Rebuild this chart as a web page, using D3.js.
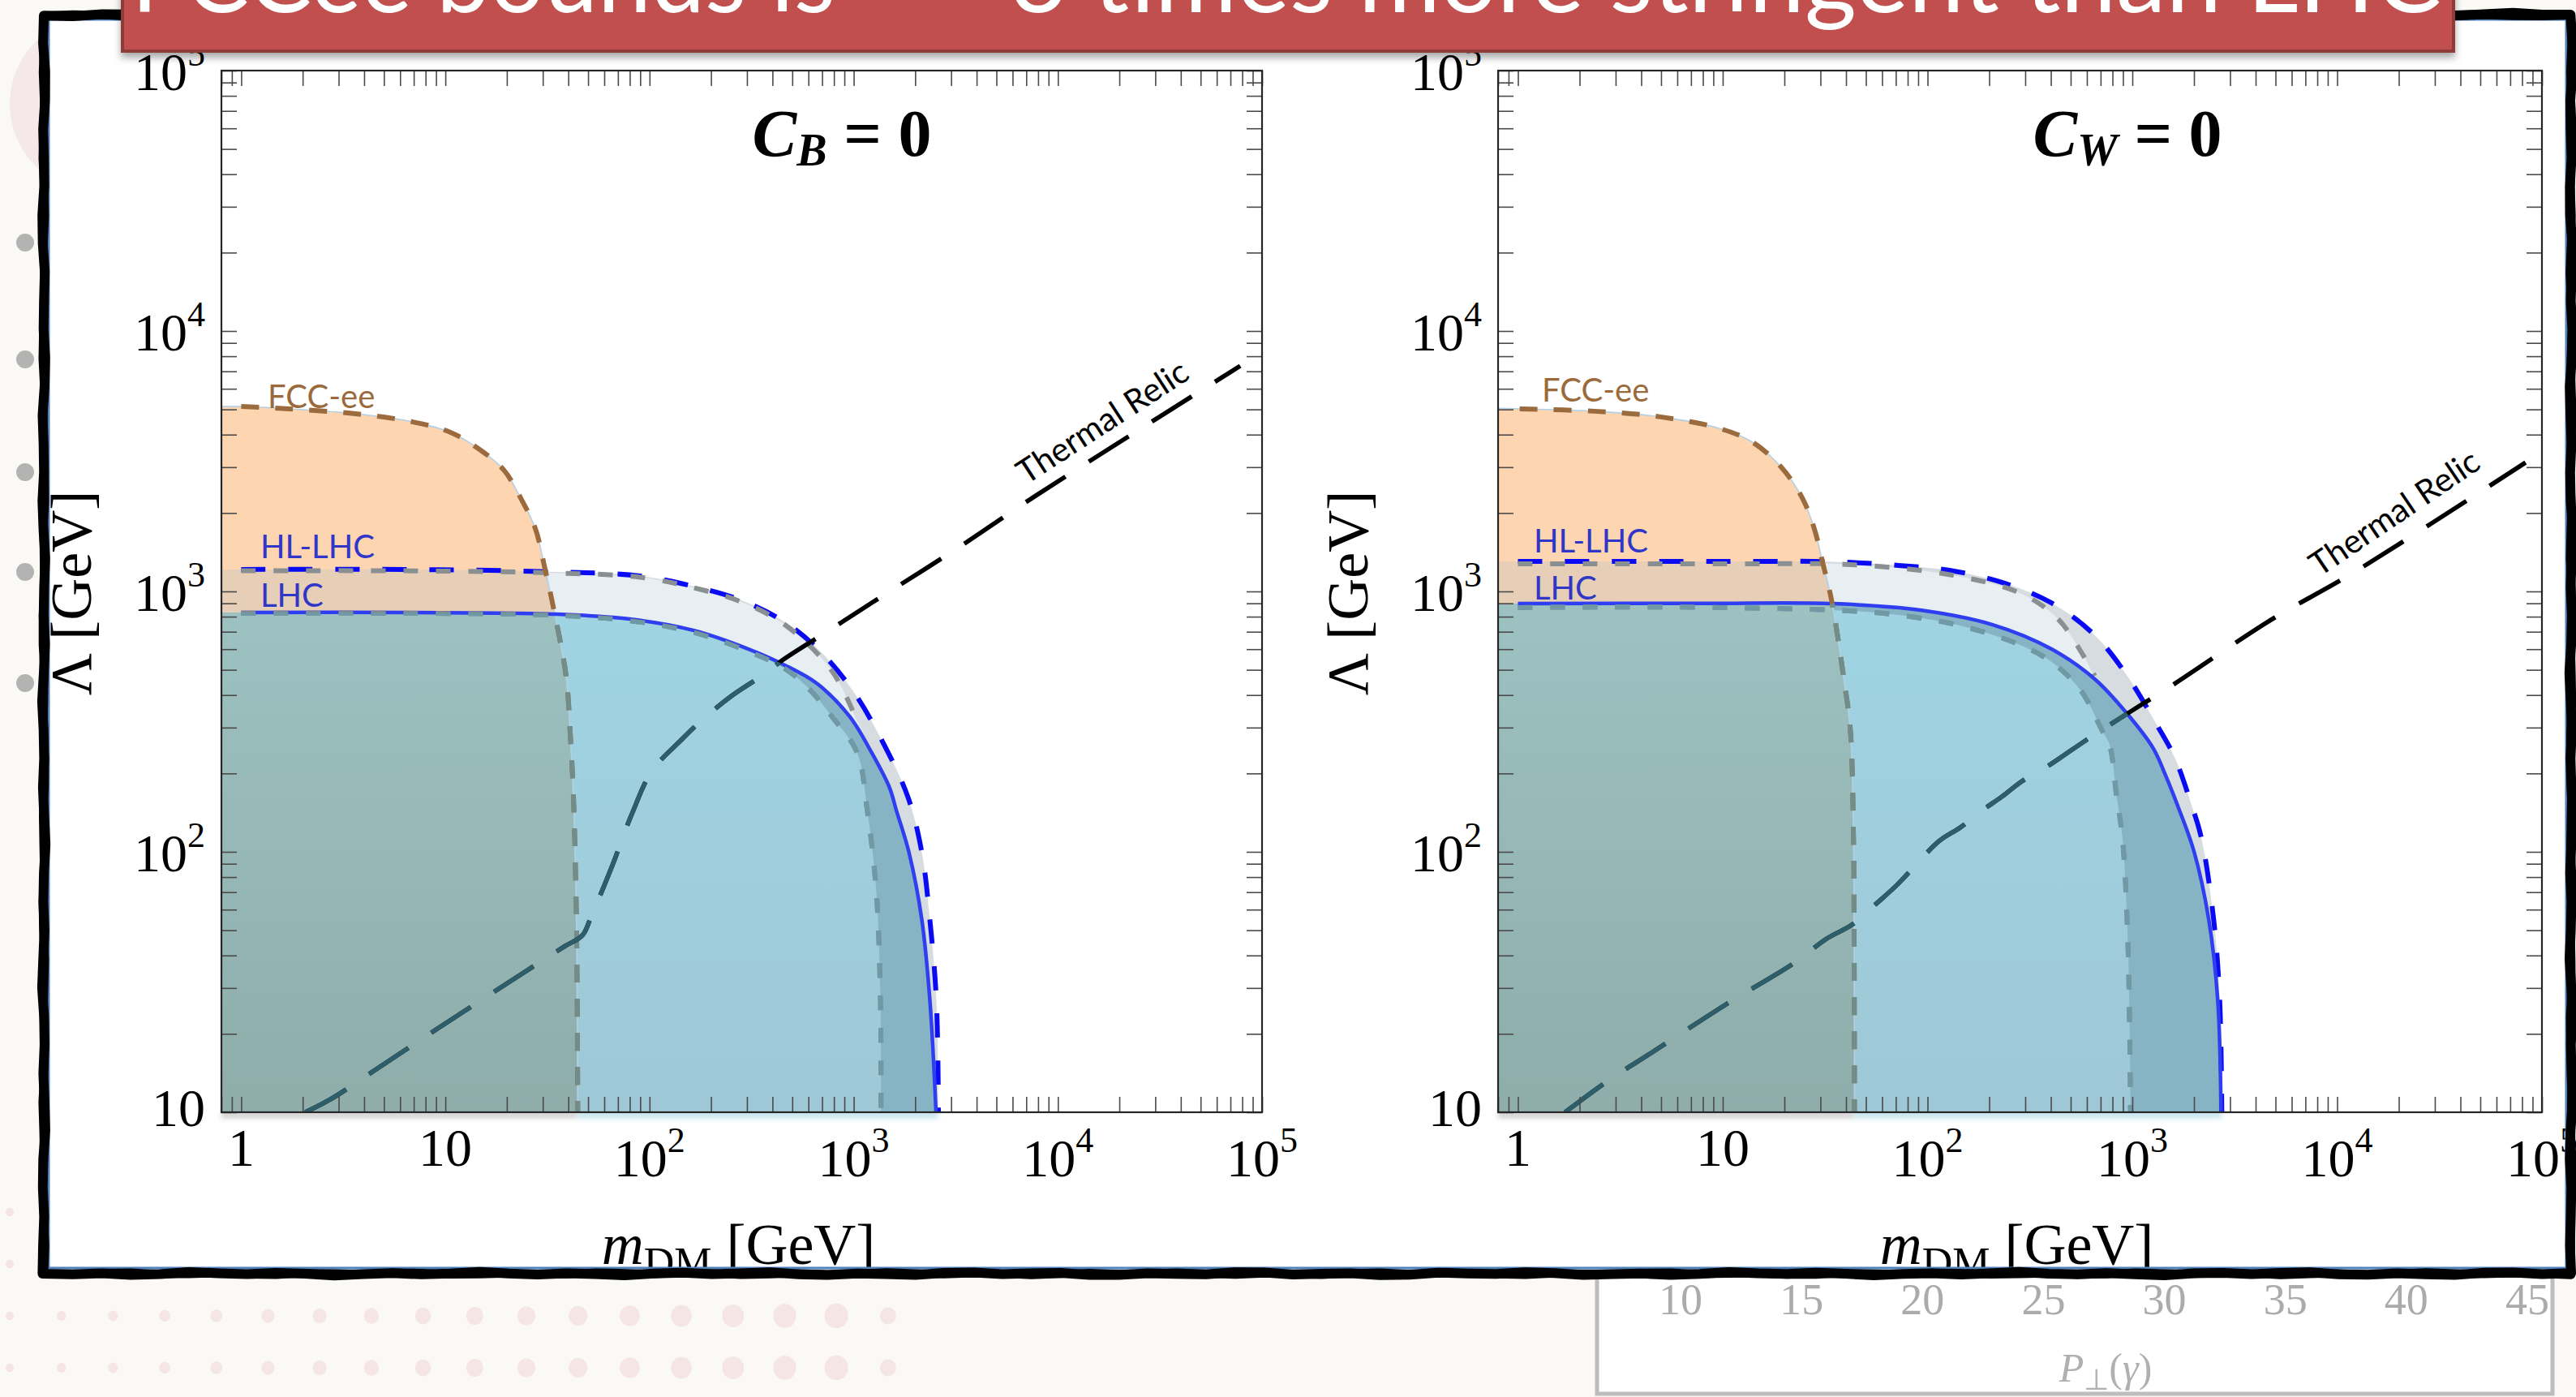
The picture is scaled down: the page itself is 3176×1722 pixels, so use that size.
<!DOCTYPE html>
<html>
<head>
<meta charset="utf-8">
<script src="https://cdn.jsdelivr.net/npm/d3@7"></script>
<style>
  html, body { margin: 0; padding: 0; background: #faf9f5; }
  svg { display: block; }
</style>
</head>
<body>
<svg id="slide" width="3176" height="1722"></svg>
<script>
// ---------------------------------------------------------------
// Exclusion contours in the (m_DM, Lambda) plane, both in GeV.
// Each contour runs from small mass along its plateau and bends
// down to the vertical cut-off at Lambda = 10 GeV.
// ---------------------------------------------------------------

// Panel 1: C_B = 0
const fccCB = [[0.8, 5130], [1.0, 5130], [1.71, 5025], [3.63, 4810], [6.94, 4475], [10.6, 4080],
  [14.7, 3510], [19.3, 2930], [23.4, 2280], [27.6, 1740], [30.8, 1214], [34, 850], [39, 474],
  [40.8, 293], [42.4, 162], [43.3, 90], [44, 45], [44.5, 10]];
const hlCB = [[0.8, 1214], [1, 1214], [6.3, 1214], [32.5, 1190], [89.6, 1146], [165, 1045],
  [281, 925], [460, 762], [687, 588], [1000, 411], [1377, 267], [1845, 162], [2153, 100],
  [2360, 55], [2540, 27], [2600, 10]];
const hlAltCB = [[0.8, 1200], [1, 1200], [6.3, 1200], [32.5, 1178], [89.6, 1134], [165, 1033],
  [281, 912], [460, 745], [782, 495], [1038, 318]];
const lhcCB = [[0.8, 830], [1, 830], [6.3, 830], [35, 818], [80, 783], [165, 708], [305, 601],
  [460, 521], [663, 442], [955, 331], [1222, 241], [1495, 177], [1623, 143], [1862, 100],
  [2155, 55], [2360, 27], [2530, 10]];
const lhcAltCB = [[0.8, 825], [1, 825], [6.3, 825], [35, 810], [80, 772], [165, 696], [305, 588],
  [460, 505], [600, 425], [782, 331], [1038, 241], [1167, 143], [1291, 70], [1352, 27], [1360, 10]];
const relicCB = [[2.06, 10], [2.73, 11.2], [4.57, 14.6], [9.2, 21], [24.5, 34.6], [38.3, 43.3],
  [46.9, 47.8], [51.7, 56.3], [65, 86.7], [82, 140], [103, 205], [143, 269], [176, 315],
  [250, 395], [360, 478], [452, 547], [746, 703], [1222, 903], [3250, 1472], [7590, 2300],
  [78200, 7345]];

// Panel 2: C_W = 0
const fccCW = [[0.8, 5050], [1.02, 5025], [2.37, 4920], [4.97, 4680], [9.6, 4230], [14, 3740],
  [19.3, 3000], [24.5, 2280], [28, 1740], [30.8, 1285], [34, 925], [39, 464], [42, 293],
  [43.5, 113], [43.8, 50], [44, 10]];
const hlCW = [[0.8, 1303], [1, 1303], [10.5, 1303], [34.6, 1300], [72, 1259], [128, 1205],
  [226, 1089], [403, 903], [655, 679], [944, 474], [1315, 308], [1607, 231], [1932, 154],
  [2173, 113], [2495, 55], [2670, 27], [2735, 10]];
const hlAltCW = [[0.8, 1276], [1, 1276], [10.5, 1276], [44, 1265], [139, 1146], [290, 977],
  [434, 783], [582, 560], [655, 474]];
const lhcCW = [[0.8, 898], [1, 898], [7.9, 900], [34.6, 898], [92, 848], [208, 745], [403, 601],
  [655, 461], [944, 339], [1268, 249], [1440, 200], [1667, 150], [2003, 100], [2361, 55],
  [2612, 27], [2710, 10]];
const lhcAltCW = [[0.8, 867], [1, 867], [10, 867], [66, 818], [177, 708], [371, 560], [556, 420],
  [711, 293], [773, 259], [839, 162], [895, 113], [953, 43], [980, 10]];
const relicCW = [[1.7, 10], [2.71, 13.1], [4.53, 17], [10.5, 26.1], [22.3, 37.4], [32.2, 46.4],
  [42.8, 52.5], [56.8, 63.7], [71.4, 75], [114, 110], [144.5, 124], [182, 143], [231, 163],
  [290, 187], [385, 213], [614, 273], [971, 344], [1607, 442], [4820, 783], [11600, 1161],
  [83200, 3126]];

// Axis labels
const massTickLabels = [1, 10, 100, 1000, 10000, 100000];
const scaleTickLabels = [10, 100, 1000, 10000, 100000];
const massDomain = [0.8, 1e5];
const scaleDomain = [10, 1e5];

// Tick labels of the partly hidden chart below the panel
const ptTickLabels = [10, 15, 20, 25, 30, 35, 40, 45];

const headline = ["FCCee bounds is", "\u223C", "3 times more stringent than LHC"];

// ---------------------------------------------------------------
const W = 3176, H = 1722;
const SERIF = "'Liberation Serif', 'Times New Roman', serif";
const SANS = "Lato, 'Open Sans', sans-serif";
const svg = d3.select("#slide");
const defs = svg.append("defs");

function vGrad(id, y0, y1, c0, c1) {
  const gr = defs.append("linearGradient").attr("id", id)
    .attr("gradientUnits", "userSpaceOnUse").attr("x1", 0).attr("x2", 0).attr("y1", y0).attr("y2", y1);
  gr.append("stop").attr("offset", 0).attr("stop-color", c0);
  gr.append("stop").attr("offset", 1).attr("stop-color", c1);
}
vGrad("blueFill", 740, 1371, "#9fd4e3", "#9fc8d6");
vGrad("tealFill", 740, 1371, "#9dc2c1", "#8eadab");

const shadow = defs.append("filter").attr("id", "boxShadow")
  .attr("x", "-5%").attr("y", "-50%").attr("width", "110%").attr("height", "200%");
shadow.append("feDropShadow").attr("dx", 0).attr("dy", 6).attr("stdDeviation", 5)
  .attr("flood-color", "#000").attr("flood-opacity", 0.35);
defs.append("filter").attr("id", "soft").attr("x", "-5%").attr("y", "-100%").attr("width", "110%").attr("height", "300%")
  .append("feGaussianBlur").attr("stdDeviation", 3);

// ---------------- slide background ----------------
svg.append("rect").attr("width", W).attr("height", H).attr("fill", "#faf9f5");
svg.append("circle").attr("cx", 120).attr("cy", 128).attr("r", 108).attr("fill", "#f5e8e8");

const bullets = svg.append("g").attr("fill", "#b3b3b3");
[299, 443, 582, 705, 842].forEach(cy => bullets.append("circle").attr("cx", 31).attr("cy", cy).attr("r", 11));

const dots = svg.append("g").attr("fill", "#f5e5e5");
d3.range(18).forEach(i => {
  const r = i === 17 ? 10 : 5 + i * 0.6;
  [1622, 1686].forEach(cy => dots.append("ellipse").attr("cx", 12 + i * 63.7).attr("cy", cy).attr("rx", r).attr("ry", r * 1.05));
});
[1494, 1558].forEach(cy => dots.append("ellipse").attr("cx", 12).attr("cy", cy).attr("rx", 5).attr("ry", 5.3));

// partly hidden chart underneath the panel
const under = svg.append("g");
under.append("rect").attr("x", 1969).attr("y", 1450).attr("width", 1178).attr("height", 268)
  .attr("fill", "#ffffff").attr("stroke", "#bdbdbd").attr("stroke-width", 5);
const pt = d3.scaleLinear().domain([10, 45]).range([2072, 3116]);
ptTickLabels.forEach(v => under.append("text").attr("x", pt(v)).attr("y", 1620)
  .attr("text-anchor", "middle").attr("font-family", SERIF).attr("font-size", 54)
  .attr("fill", "#ababab").text(v));
const ptLab = under.append("text").attr("x", 2596).attr("y", 1703).attr("text-anchor", "middle")
  .attr("font-family", SERIF).attr("font-size", 50).attr("fill", "#b0b0b0");
ptLab.append("tspan").attr("font-style", "italic").text("P");
ptLab.append("tspan").attr("font-size", 36).attr("dy", 10).text("\u22A5");
ptLab.append("tspan").attr("dy", -10).text("(");
ptLab.append("tspan").attr("font-style", "italic").text("\u03B3");
ptLab.append("tspan").text(")");

// ---------------- white panel ----------------
svg.append("rect").attr("x", 54).attr("y", 18).attr("width", 3116).attr("height", 1552).attr("fill", "#ffffff");

// ---------------- one exclusion panel ----------------
function drawPanel(p) {
  const x = d3.scaleLog().domain(massDomain).range([p.left, p.right]);
  const y = d3.scaleLog().domain(scaleDomain).range([1371, 87]);
  const yBot = y(scaleDomain[0]), yTop = y(scaleDomain[1]);
  const g = svg.append("g");

  const smooth = d3.line().x(d => x(d[0])).y(d => y(d[1])).curve(d3.curveCatmullRom.alpha(0.5));
  const region = pts => {
    const a = pts[0], b = pts[pts.length - 1];
    return smooth(pts) + `L${x(b[0])},${yBot}L${x(massDomain[0])},${yBot}L${x(massDomain[0])},${y(a[1])}Z`;
  };
  const merged = (alt, base) => alt.concat(base.filter(d => d[0] > alt[alt.length - 1][0]));
  const fromOne = pts => pts.filter(d => d[0] >= 1);
  const edge = pts => pts[pts.length - 1][0];

  defs.append("clipPath").attr("id", p.id + "-area").append("rect")
    .attr("x", p.left).attr("y", yTop).attr("width", p.right - p.left).attr("height", yBot - yTop);
  defs.append("clipPath").attr("id", p.id + "-hl").append("path").attr("d", region(p.hl));
  defs.append("clipPath").attr("id", p.id + "-lhc").append("path").attr("d", region(p.lhc));

  // soft shadow under the filled regions, just below the axis
  g.append("rect").attr("x", p.left).attr("y", yBot).attr("width", x(edge(p.fcc)) - p.left).attr("height", 7)
    .attr("fill", "#8a8a8a").attr("opacity", 0.45).attr("filter", "url(#soft)");
  g.append("rect").attr("x", x(edge(p.fcc))).attr("y", yBot).attr("width", x(edge(p.hl)) - x(edge(p.fcc))).attr("height", 7)
    .attr("fill", "#9fd3e3").attr("opacity", 0.7).attr("filter", "url(#soft)");

  const area = g.append("g").attr("clip-path", `url(#${p.id}-area)`);

  // filled regions
  area.append("path").attr("d", region(p.hl)).attr("fill", "#d6dcdf");
  area.append("path").attr("d", region(merged(p.hlAlt, p.lhc))).attr("fill", "#e8eff3");
  area.append("path").attr("d", region(p.lhc)).attr("fill", "#87b4c4");
  area.append("path").attr("d", region(p.lhcAlt)).attr("fill", "url(#blueFill)");
  area.append("path").attr("d", region(p.fcc)).attr("fill", "#fdd5b1");
  area.append("path").attr("d", region(p.fcc)).attr("fill", "#e6cfb6").attr("clip-path", `url(#${p.id}-hl)`);
  area.append("path").attr("d", region(p.fcc)).attr("fill", "url(#tealFill)").attr("clip-path", `url(#${p.id}-lhc)`);
  area.append("path").attr("d", region(p.fcc)).attr("fill", "none").attr("stroke", "#b2d0e6").attr("stroke-width", 1.6);

  // contour lines
  const stroke = (pts, color, w, dash, clip) => {
    const s = area.append("path").attr("d", smooth(pts)).attr("fill", "none")
      .attr("stroke", color).attr("stroke-width", w).attr("stroke-linejoin", "round");
    if (dash) s.attr("stroke-dasharray", dash);
    if (clip) s.attr("clip-path", `url(#${p.id}-${clip})`);
    return s;
  };
  stroke(fromOne(p.hl), "#0b0bf3", 6, "30,28");
  stroke(fromOne(p.hlAlt), "#8a8f92", 6, "18,22");
  stroke(fromOne(p.lhc), "#2e3ef0", 4.5);
  stroke(fromOne(p.lhcAlt), "#80898d", 6, "18,22");
  stroke(fromOne(p.lhcAlt), "#6e99a5", 6, "18,22", "lhc");
  stroke(fromOne(p.fcc), "#9c6b3d", 6, "22,20");
  stroke(fromOne(p.fcc), "#728c8a", 6, "22,20", "lhc");
  stroke(p.relic, "#000000", 5.5, "58,34");
  stroke(p.relic, "#2d5e6a", 5.5, "58,34", "lhc");

  // ticks on all four sides, pointing inward
  const tickStyle = sel => {
    sel.select(".domain").remove();
    sel.selectAll(".tick line").attr("stroke", "#4a4a4a").attr("stroke-width", 1.6);
  };
  g.append("g").attr("transform", `translate(0,${yBot})`)
    .call(d3.axisBottom(x).tickValues(x.ticks()).tickSize(-19).tickFormat(() => "")).call(tickStyle);
  g.append("g").attr("transform", `translate(0,${yTop})`)
    .call(d3.axisTop(x).tickValues(x.ticks()).tickSize(-19).tickFormat(() => "")).call(tickStyle);
  g.append("g").attr("transform", `translate(${p.left},0)`)
    .call(d3.axisLeft(y).tickValues(y.ticks()).tickSize(-19).tickFormat(() => "")).call(tickStyle);
  g.append("g").attr("transform", `translate(${p.right},0)`)
    .call(d3.axisRight(y).tickValues(y.ticks()).tickSize(-19).tickFormat(() => "")).call(tickStyle);

  g.append("rect").attr("x", p.left).attr("y", yTop).attr("width", p.right - p.left).attr("height", yBot - yTop)
    .attr("fill", "none").attr("stroke", "#262626").attr("stroke-width", 2.2);

  // tick labels: plain numbers below 100, powers of ten above
  const tickText = (v, px, py, anchor) => {
    const t = g.append("text").attr("x", px).attr("y", py).attr("text-anchor", anchor)
      .attr("font-family", SERIF).attr("font-size", 66).attr("fill", "#000");
    if (v < 100) { t.text(v); return; }
    t.append("tspan").text("10");
    t.append("tspan").attr("dy", -30).attr("font-size", 44).text(Math.round(Math.log10(v)));
  };
  massTickLabels.forEach(v => tickText(v, x(v), v < 100 ? 1437 : 1450, "middle"));
  scaleTickLabels.forEach(v => tickText(v, p.left - 20, y(v) + (v < 100 ? 17 : 24), "end"));

  // axis titles
  const yt = g.append("text").attr("transform", `translate(${p.left - 161},731) rotate(-90)`)
    .attr("text-anchor", "middle").attr("font-family", SERIF).attr("font-size", 72).attr("fill", "#000");
  yt.text("\u039B [GeV]");
  const xt = g.append("text").attr("x", (p.left + p.right) / 2 - 4).attr("y", 1558)
    .attr("text-anchor", "middle").attr("font-family", SERIF).attr("font-size", 72).attr("fill", "#000");
  xt.append("tspan").attr("font-style", "italic").text("m");
  xt.append("tspan").attr("font-size", 52).attr("dy", 16).text("DM");
  xt.append("tspan").attr("dy", -16).text(" [GeV]");

  // panel title
  const tt = g.append("text").attr("x", p.titleX).attr("y", 192).attr("text-anchor", "middle")
    .attr("font-family", SERIF).attr("font-size", 82).attr("font-weight", "bold").attr("fill", "#000");
  tt.append("tspan").attr("font-style", "italic").text("C");
  tt.append("tspan").attr("font-style", "italic").attr("font-size", 56).attr("dy", 12).text(p.sub);
  tt.append("tspan").attr("dy", -12).text(" = 0");

  // curve annotations
  const note = (txt, px, py, color) => g.append("text").attr("x", px).attr("y", py)
    .attr("font-family", SANS).attr("font-size", 40).attr("fill", color).text(txt);
  note("FCC-ee", p.left + p.fccLab[0], p.fccLab[1], "#9a6a3b");
  note("HL-LHC", p.left + p.hlLab[0], p.hlLab[1], "#3036c8");
  note("LHC", p.left + p.lhcLab[0], p.lhcLab[1], "#3036c8");
  g.append("text").attr("transform", `translate(${p.relicLab[0]},${p.relicLab[1]}) rotate(${p.relicLab[2]})`)
    .attr("text-anchor", "middle").attr("font-family", SANS).attr("font-size", 41).attr("fill", "#000")
    .text("Thermal Relic");
}

drawPanel({ id: "cb", left: 273, right: 1556, sub: "B", titleX: 1038,
  fcc: fccCB, hl: hlCB, hlAlt: hlAltCB, lhc: lhcCB, lhcAlt: lhcAltCB, relic: relicCB,
  fccLab: [57, 503], hlLab: [48, 688], lhcLab: [48, 748], relicLab: [1367, 532, -33] });
drawPanel({ id: "cw", left: 1847, right: 3134, sub: "W", titleX: 2623,
  fcc: fccCW, hl: hlCW, hlAlt: hlAltCW, lhc: lhcCW, lhcAlt: lhcAltCW, relic: relicCW,
  fccLab: [54, 495], hlLab: [44, 681], lhcLab: [44, 739], relicLab: [2960, 644, -34] });

// ---------------- hand-drawn panel border ----------------
svg.append("rect").attr("x", 60).attr("y", 24).attr("width", 3104).attr("height", 1539)
  .attr("fill", "none").attr("stroke", "#4f81bd").attr("stroke-width", 3);
function wobblyRect(x0, y0, x1, y1, seed, amp) {
  const pts = [];
  const side = (ax, ay, bx, by, s) => {
    const len = Math.hypot(bx - ax, by - ay), n = Math.ceil(len / 36);
    const nx = -(by - ay) / len, ny = (bx - ax) / len;
    for (let i = 0; i < n; i++) {
      const t = i / n;
      const o = amp * (Math.sin(i * 1.9 + s) * 0.6 + Math.sin(i * 0.71 + s * 2.3) * 0.4);
      pts.push([ax + (bx - ax) * t + nx * o, ay + (by - ay) * t + ny * o]);
    }
  };
  side(x0, y0, x1, y0, seed); side(x1, y0, x1, y1, seed + 1.3);
  side(x1, y1, x0, y1, seed + 2.6); side(x0, y1, x0, y0, seed + 3.9);
  return "M" + pts.map(q => q[0].toFixed(1) + "," + q[1].toFixed(1)).join("L") + "Z";
}
svg.append("path").attr("d", wobblyRect(54, 18, 3170, 1570, 0.4, 2.2))
  .attr("fill", "none").attr("stroke", "#000").attr("stroke-width", 12).attr("stroke-linejoin", "round");
svg.append("path").attr("d", wobblyRect(54, 19, 3170, 1570, 2.1, 1.8))
  .attr("fill", "none").attr("stroke", "#000").attr("stroke-width", 10).attr("stroke-linejoin", "round");

// ---------------- title banner ----------------
const banner = svg.append("g");
banner.append("rect").attr("x", 151).attr("y", -20).attr("width", 2874).attr("height", 83)
  .attr("fill", "#c0504d").attr("stroke", "#8f3b39").attr("stroke-width", 4).attr("filter", "url(#boxShadow)");
banner.append("text").attr("x", 162).attr("y", 15).attr("font-family", SANS).attr("font-size", 122)
  .attr("fill", "#ffffff").attr("textLength", 868).attr("lengthAdjust", "spacingAndGlyphs").text(headline[0]);
banner.append("text").attr("x", 1137).attr("y", 15).attr("text-anchor", "middle").attr("font-family", SANS)
  .attr("font-size", 122).attr("fill", "#ffffff").text(headline[1]);
banner.append("text").attr("x", 1245).attr("y", 15).attr("font-family", SANS).attr("font-size", 122)
  .attr("fill", "#ffffff").attr("textLength", 1765).attr("lengthAdjust", "spacingAndGlyphs").text(headline[2]);
</script>
</body>
</html>
